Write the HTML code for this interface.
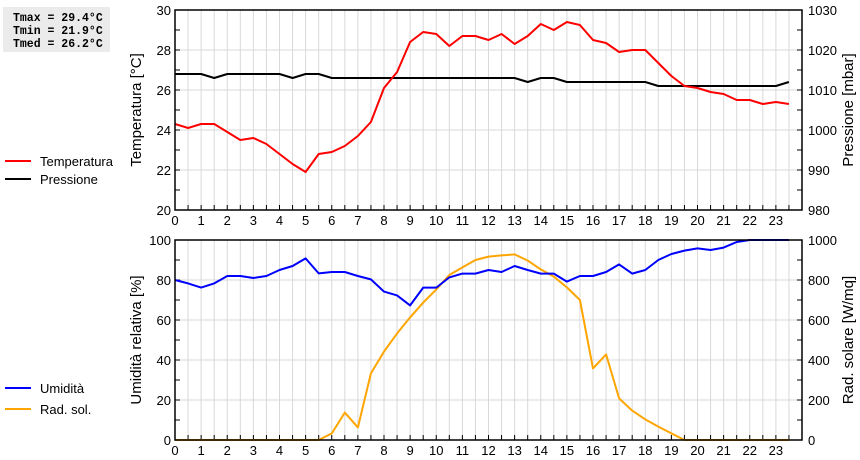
<!DOCTYPE html>
<html><head><meta charset="utf-8">
<style>
body{margin:0;background:#fff;}
svg{display:block;font-family:"Liberation Sans",sans-serif;}
</style></head>
<body>
<svg id="c" width="860" height="460" viewBox="0 0 860 460">
<rect x="3" y="7" width="107" height="45" fill="#ebebeb"/>
<text x="13" y="21" font-family="Liberation Mono,monospace" font-weight="bold" font-size="11.5">Tmax = 29.4°C</text>
<text x="13" y="34" font-family="Liberation Mono,monospace" font-weight="bold" font-size="11.5">Tmin = 21.9°C</text>
<text x="13" y="47" font-family="Liberation Mono,monospace" font-weight="bold" font-size="11.5">Tmed = 26.2°C</text>
<g><line x1="5" y1="161" x2="31" y2="161" stroke="#f00" stroke-width="2"/><text x="40" y="166" font-size="13">Temperatura</text></g>
<g><line x1="5" y1="179" x2="31" y2="179" stroke="#000" stroke-width="2"/><text x="40" y="184" font-size="13">Pressione</text></g>
<g><line x1="5" y1="388" x2="31" y2="388" stroke="#00f" stroke-width="2"/><text x="40" y="393" font-size="13">Umidità</text></g>
<g><line x1="5" y1="409" x2="31" y2="409" stroke="#ffa500" stroke-width="2"/><text x="40" y="414" font-size="13">Rad. sol.</text></g>
<text transform="translate(141,110) rotate(-90)" text-anchor="middle" font-size="15">Temperatura [°C]</text>
<text transform="translate(853,110) rotate(-90)" text-anchor="middle" font-size="15">Pressione [mbar]</text>
<text transform="translate(141,340) rotate(-90)" text-anchor="middle" font-size="15">Umidità relativa [%]</text>
<text transform="translate(853,340) rotate(-90)" text-anchor="middle" font-size="15">Rad. solare [W/mq]</text>
</svg>
<script>
const hours=[0,0.5,1,1.5,2,2.5,3,3.5,4,4.5,5,5.5,6,6.5,7,7.5,8,8.5,9,9.5,10,10.5,11,11.5,12,12.5,13,13.5,14,14.5,15,15.5,16,16.5,17,17.5,18,18.5,19,19.5,20,20.5,21,21.5,22,22.5,23,23.5];
const temperature=[24.3,24.1,24.3,24.3,23.9,23.5,23.6,23.3,22.8,22.3,21.9,22.8,22.9,23.2,23.7,24.4,26.1,26.9,28.4,28.9,28.8,28.2,28.7,28.7,28.5,28.8,28.3,28.7,29.3,29.0,29.4,29.25,28.5,28.35,27.9,28.0,28.0,27.35,26.7,26.2,26.1,25.9,25.8,25.5,25.5,25.3,25.4,25.3];
const pressure=[1014,1014,1014,1013,1014,1014,1014,1014,1014,1013,1014,1014,1013,1013,1013,1013,1013,1013,1013,1013,1013,1013,1013,1013,1013,1013,1013,1012,1013,1013,1012,1012,1012,1012,1012,1012,1012,1011,1011,1011,1011,1011,1011,1011,1011,1011,1011,1012];
const humidity=[80,78.3,76.2,78.3,82,82,81,82,85,87,90.8,83.3,84,84,82,80.3,74.2,72.3,67.3,76.2,76.2,81.3,83.2,83.2,85,84,87,85,83.2,83.2,79.2,82,82,84,87.8,83.2,85,90,93,94.7,95.8,95,96.2,99,100,100,100,100];
const radiation=[0,0,0,0,0,0,0,0,0,0,0,0,33,137,63,333,442,533,613,687,753,825,863,900,917,923,928,897,853,817,763,700,358,428,208,147,103,67,33,0,0,0,0,0,0,0,0,0];
const xTicks=[0,1,2,3,4,5,6,7,8,9,10,11,12,13,14,15,16,17,18,19,20,21,22,23];
const tempTicks=[20,22,24,26,28,30];
const presTicks=[980,990,1000,1010,1020,1030];
const humTicks=[0,20,40,60,80,100];
const radTicks=[0,200,400,600,800,1000];

const svg=document.getElementById('c');
const NS='http://www.w3.org/2000/svg';
const L=175,R=802;
function x(h){return L+h*(R-L)/24;}
function mk(tag,attrs,parent){const e=document.createElementNS(NS,tag);for(const k in attrs)e.setAttribute(k,attrs[k]);(parent||svg).appendChild(e);return e;}
function panel(name,top,bot,lmin,lmax,rmin,rmax,lt,rt,series){
  const g=mk('g',{});
  
  
  const yl=v=>bot-(v-lmin)/(lmax-lmin)*(bot-top);
  const yr=v=>bot-(v-rmin)/(rmax-rmin)*(bot-top);
  for(let h=0.5;h<24;h+=0.5){const l=mk('line',{x1:x(h),x2:x(h),y1:top,y2:bot,stroke:'#d9d9d9','stroke-width':1},g);}
  for(let i=1;i<5;i++){const yy=top+i*(bot-top)/5;const l=mk('line',{x1:L,x2:R,y1:yy,y2:yy,stroke:'#d9d9d9','stroke-width':1},g);}
  for(let i=0;i<=10;i++){const yy=top+i*(bot-top)/10;mk('line',{x1:L,x2:L+5,y1:yy,y2:yy,stroke:'#000'},g);mk('line',{x1:R-5,x2:R,y1:yy,y2:yy,stroke:'#000'},g);}
  for(let h=0.5;h<24;h+=0.5){mk('line',{x1:x(h),x2:x(h),y1:bot-5,y2:bot,stroke:'#000'},g);}
  xTicks.forEach(t=>{const e=mk('text',{x:x(t),y:bot+15,'text-anchor':'middle','font-size':13},g);e.textContent=t;});
  lt.forEach(t=>{const e=mk('text',{x:L-4,y:yl(t)+5,'text-anchor':'end','font-size':13},g);e.textContent=t;});
  rt.forEach(t=>{const e=mk('text',{x:R+6,y:yr(t)+5,'text-anchor':'start','font-size':13},g);e.textContent=t;});
  series.forEach(s=>{
    const sc=s.axis==='l'?yl:yr;
    const pts=s.data.map((v,i)=>x(hours[i]).toFixed(1)+','+sc(v).toFixed(1)).join(' ');
    const p=mk('polyline',{points:pts,fill:'none',stroke:s.color,'stroke-width':2,'stroke-linejoin':'round'},g);
    
    
  });
  const b=mk('rect',{x:L,y:top,width:R-L,height:bot-top,fill:'none',stroke:'#000','stroke-width':1.5},g);
  
  
}
panel('top-plot',10,210,20,30,980,1030,tempTicks,presTicks,[
  {name:'pressure-line',data:pressure,color:'#000',axis:'r'},
  {name:'temperature-line',data:temperature,color:'#f00',axis:'l'}]);
panel('bottom-plot',240,440,0,100,0,1000,humTicks,radTicks,[
  {name:'radiation-line',data:radiation,color:'#ffa500',axis:'r'},
  {name:'humidity-line',data:humidity,color:'#00f',axis:'l'}]);
</script>
</body></html>
